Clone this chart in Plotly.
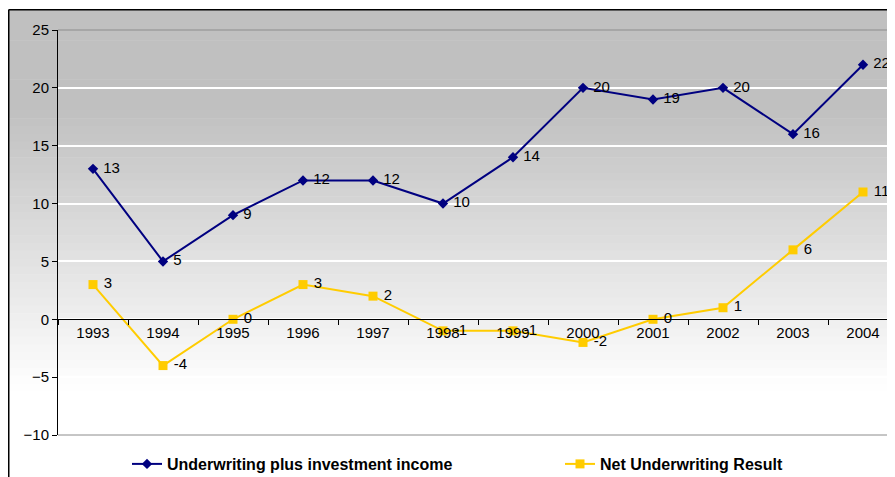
import plotly.graph_objects as go

years = ["1993", "1994", "1995", "1996", "1997", "1998", "1999", "2000", "2001", "2002", "2003", "2004"]
underwriting_plus_investment = [13, 5, 9, 12, 12, 10, 14, 20, 19, 20, 16, 22]
net_underwriting = [3, -4, 0, 3, 2, -1, -1, -2, 0, 1, 6, 11]
y_ticks = [-10, -5, 0, 5, 10, 15, 20, 25]

FONT = "Liberation Sans, Arial, sans-serif"
OFF = 8                      # page body margin in the browser
W, H = 895 - OFF, 477 - OFF  # figure size so it fits the window
ML, MR, MT, MB = 58 - OFF, 0, 30 - OFF, 477 - 435
PW, PH = W - ML - MR, H - MT - MB
CAT_PX = 70                  # pixel width of one category in the reference

def sx(px):  # screen px -> paper x
    return (px - OFF - ML) / PW

def sy(py):  # screen px -> paper y
    return (H - MB - (py - OFF)) / PH

NBSP = "\u00a0"

fig = go.Figure()

fig.add_trace(go.Scatter(
    x=years, y=underwriting_plus_investment, name="Underwriting plus investment income",
    mode="lines+markers+text", text=[str(v) for v in underwriting_plus_investment],
    texttemplate=NBSP + "%{text}",
    textposition="middle right", textfont=dict(family=FONT, size=15, color="black"),
    line=dict(color="#000080", width=2), marker=dict(symbol="diamond", size=8, color="#000080"),
    cliponaxis=False, legend="legend",
))
fig.add_trace(go.Scatter(
    x=years, y=net_underwriting, name="Net Underwriting Result",
    mode="lines+markers+text", text=[str(v) for v in net_underwriting],
    texttemplate=NBSP + "%{text}",
    textposition="middle right", textfont=dict(family=FONT, size=15, color="black"),
    line=dict(color="#FFCC00", width=2), marker=dict(symbol="square", size=9, color="#FFCC00"),
    cliponaxis=False, legend="legend2",
))

shapes = []
# gradient background (bands)
top_px, bot_px = 9, 477
g0, g1 = 110, 390
n = 60
band = (bot_px - top_px) / n
for i in range(n):
    y_a = top_px + i * band
    y_b = y_a + band + 0.5
    mid = (y_a + y_b) / 2
    t = min(max((mid - g0) / (g1 - g0), 0), 1)
    c = int(round(192 + (255 - 192) * t))
    shapes.append(dict(type="rect", xref="paper", yref="paper", layer="below",
                       x0=sx(OFF), x1=sx(910),
                       y0=sy(y_b), y1=sy(y_a),
                       fillcolor=f"rgb({c},{c},{c})", line=dict(width=0)))
# outer chart border (top and left)
shapes.append(dict(type="line", xref="paper", yref="paper",
                   x0=sx(OFF + 0.75), x1=sx(910), y0=sy(9.75), y1=sy(9.75),
                   line=dict(color="black", width=1.5)))
shapes.append(dict(type="line", xref="paper", yref="paper",
                   x0=sx(OFF + 0.75), x1=sx(OFF + 0.75), y0=sy(9.75), y1=sy(490),
                   line=dict(color="black", width=1.5)))
# plot area top/bottom border (gray)
for yy in (0, 1):
    shapes.append(dict(type="line", xref="paper", yref="paper", layer="below",
                       x0=0, x1=1, y0=yy, y1=yy, line=dict(color="#8c8c8c", width=1)))

legend_common = dict(orientation="h", xref="container", yref="container",
                     xanchor="left", y=(477 - 464) / H, yanchor="middle",
                     font=dict(family=FONT, size=16, color="black", weight="bold"),
                     bgcolor="rgba(0,0,0,0)", itemwidth=30)

fig.update_layout(
    width=W, height=H,
    margin=dict(l=ML, r=MR, t=MT, b=MB, autoexpand=False),
    paper_bgcolor="white", plot_bgcolor="rgba(0,0,0,0)",
    font=dict(family=FONT, size=15, color="black"),
    showlegend=True,
    legend=dict(x=(127 - OFF) / W, **legend_common),
    legend2=dict(x=(560 - OFF) / W, **legend_common),
    shapes=shapes,
    xaxis=dict(type="category", range=[-0.5, -0.5 + PW / CAT_PX], anchor="free", position=10 / 35,
               showline=True, linecolor="black", linewidth=1,
               ticks="outside", tickson="boundaries", ticklen=5, tickcolor="black",
               showgrid=False, zeroline=False, tickfont=dict(family=FONT, size=15)),
    yaxis=dict(range=[-10, 25], tickvals=y_ticks, domain=[0, 1],
               showline=True, linecolor="black", linewidth=1,
               ticks="outside", ticklen=5, tickcolor="black",
               showgrid=True, gridcolor="white", gridwidth=2,
               zeroline=False, tickfont=dict(family=FONT, size=15)),
)

fig.write_html("out.html")
